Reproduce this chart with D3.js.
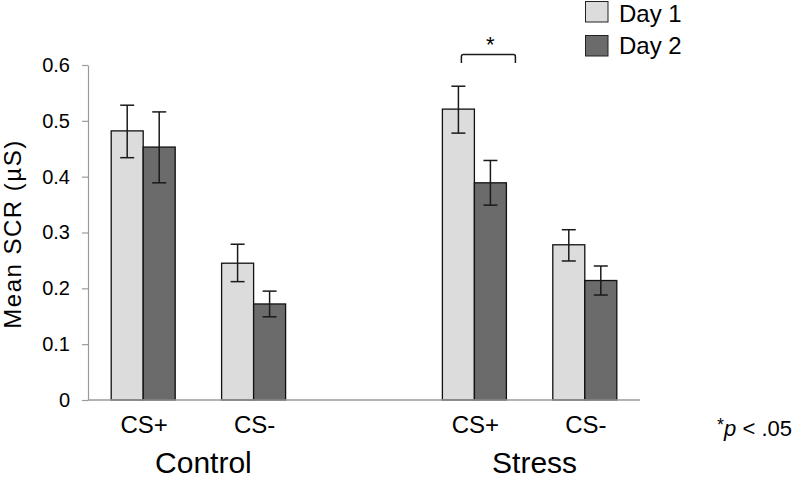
<!DOCTYPE html>
<html><head><meta charset="utf-8">
<script src="https://cdn.jsdelivr.net/npm/d3@7"></script>
<style>
body{margin:0;background:#fff;}
svg text{font-family:"Liberation Sans",Arial,Helvetica,sans-serif;fill:#000;}
</style></head>
<body><svg id="c" width="793" height="478"></svg>
<script>
const groups = ["Control", "Stress"];
const conditions = ["CS+", "CS-"];
const days = ["Day 1", "Day 2"];
// slots along the x axis (one empty slot between groups)
const slots = ["Control|CS+", "Control|CS-", "gap", "Stress|CS+", "Stress|CS-"];
const day1Mean = [0.482, 0.245, 0.521, 0.278];
const day1Hi   = [0.528, 0.279, 0.562, 0.305];
const day1Lo   = [0.434, 0.212, 0.478, 0.249];
const day2Mean = [0.453, 0.172, 0.389, 0.214];
const day2Hi   = [0.516, 0.195, 0.429, 0.240];
const day2Lo   = [0.389, 0.149, 0.349, 0.188];
const yTicks = [0, 0.1, 0.2, 0.3, 0.4, 0.5, 0.6];
const colors = {"Day 1": "#dcdcdc", "Day 2": "#6b6b6b"};

const svg = d3.select("#c");
const y = d3.scaleLinear().domain([0, 0.6]).range([400, 65]);
const x = d3.scaleBand().domain(slots).range([88, 640]).padding(0);
const xs = d3.scaleBand().domain(days).range([-32, 32]);

// build data rows
const rows = [];
let k = 0;
groups.forEach(g => conditions.forEach(c => {
  rows.push({slot: g + "|" + c, cond: c, day: "Day 1", v: day1Mean[k], hi: day1Hi[k], lo: day1Lo[k]});
  rows.push({slot: g + "|" + c, cond: c, day: "Day 2", v: day2Mean[k], hi: day2Hi[k], lo: day2Lo[k]});
  k++;
}));
const cx = d => x(d.slot) + x.bandwidth() / 2;

// y axis
const yAxis = svg.append("g").attr("transform", "translate(88,0)")
  .call(d3.axisLeft(y).tickValues(yTicks).tickSize(6).tickSizeOuter(0).tickPadding(12)
    .tickFormat(d => d === 0 ? "0" : d.toFixed(1)));
yAxis.selectAll("path,line").attr("stroke", "#9a9a9a").attr("stroke-width", 1.2);
yAxis.selectAll("text").attr("font-size", 20).attr("font-family", "'Liberation Sans',Arial,sans-serif").attr("fill", "#000");

// bars
svg.append("g").selectAll("rect").data(rows).join("rect")
  .attr("x", d => cx(d) + xs(d.day))
  .attr("width", xs.bandwidth())
  .attr("y", d => y(d.v))
  .attr("height", d => y(0) - y(d.v))
  .attr("fill", d => colors[d.day])
  .attr("stroke", "#111").attr("stroke-width", 1.3);

// baseline
svg.append("line").attr("x1", 88).attr("x2", 640).attr("y1", y(0)).attr("y2", y(0))
  .attr("stroke", "#9a9a9a").attr("stroke-width", 1.3);

// error bars
const eb = svg.append("g").attr("stroke", "#1a1a1a").attr("stroke-width", 1.5);
rows.forEach(d => {
  const mx = cx(d) + xs(d.day) + xs.bandwidth() / 2;
  eb.append("line").attr("x1", mx).attr("x2", mx).attr("y1", y(d.hi)).attr("y2", y(d.lo));
  eb.append("line").attr("x1", mx - 7).attr("x2", mx + 7).attr("y1", y(d.hi)).attr("y2", y(d.hi));
  eb.append("line").attr("x1", mx - 7).attr("x2", mx + 7).attr("y1", y(d.lo)).attr("y2", y(d.lo));
});

// x category labels
svg.append("g").selectAll("text").data(rows.filter(d => d.day === "Day 1")).join("text")
  .attr("x", d => cx(d) + 1).attr("y", 433)
  .attr("text-anchor", "middle").attr("font-size", 24).text(d => d.cond);

// group labels
svg.append("g").selectAll("text").data(groups).join("text")
  .attr("x", g => (x(g + "|CS+") + x(g + "|CS-") + x.bandwidth()) / 2 + 5).attr("y", 473)
  .attr("text-anchor", "middle").attr("font-size", 30).text(g => g);

// y label
svg.append("text").attr("transform", "translate(21,234) rotate(-90)")
  .attr("text-anchor", "middle").attr("font-size", 24).attr("letter-spacing", 1.5)
  .text("Mean SCR (µS)");

// significance bracket
const bx = x("Stress|CS+") + x.bandwidth() / 2;
const bl = bx - 13, br = bx + 41, bt = 54.5, bb = 63;
svg.append("path")
  .attr("d", `M${bl},${bb} L${bl},${bt + 2} Q${bl},${bt} ${bl + 2},${bt} L${br - 2},${bt} Q${br},${bt} ${br},${bt + 2} L${br},${bb}`)
  .attr("fill", "none").attr("stroke", "#1a1a1a").attr("stroke-width", 1.5);
svg.append("text").attr("x", (bl + br) / 2 + 2).attr("y", 52).attr("text-anchor", "middle")
  .attr("font-size", 22).text("*");

// legend
const lg = svg.append("g");
days.forEach((d, i) => {
  lg.append("rect").attr("x", 585.5).attr("y", 1.5 + i * 34).attr("width", 22.5).attr("height", 20.5)
    .attr("fill", colors[d]).attr("stroke", "#222").attr("stroke-width", 1);
  lg.append("text").attr("x", 619).attr("y", 21.5 + i * 32).attr("font-size", 24).text(d);
});

// p-value note
const note = svg.append("text").attr("x", 792).attr("y", 436).attr("text-anchor", "end").attr("font-size", 22);
note.append("tspan").attr("dy", -5).attr("font-size", 18).text("*");
note.append("tspan").attr("dy", 5).attr("font-style", "italic").text("p");
note.append("tspan").text(" < .05");
</script></body></html>
